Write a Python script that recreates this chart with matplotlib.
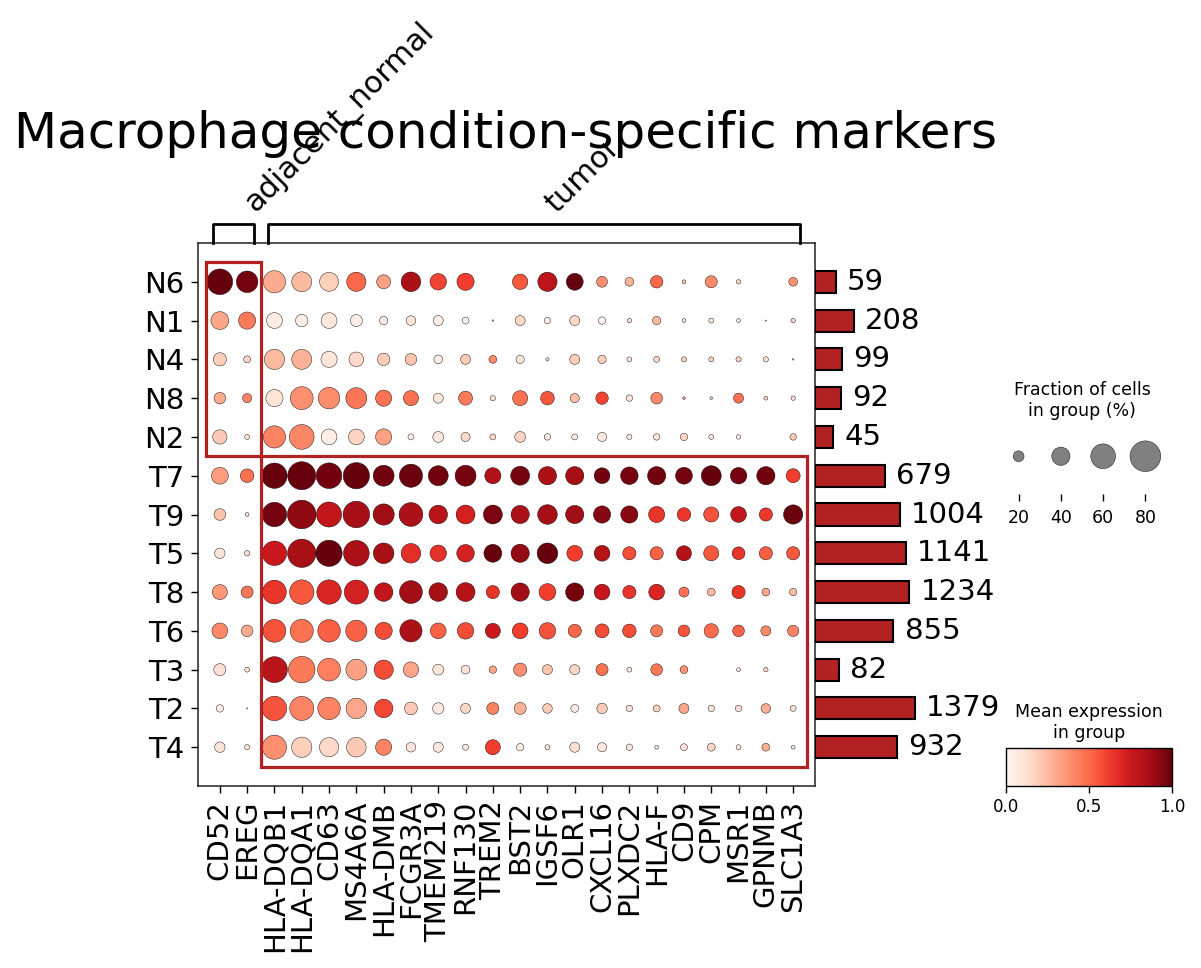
import numpy as np
import matplotlib
matplotlib.use("Agg")
import matplotlib.pyplot as plt
from matplotlib.patches import Rectangle
from matplotlib.cm import ScalarMappable
from matplotlib.colors import Normalize

genes = ["CD52", "EREG", "HLA-DQB1", "HLA-DQA1", "CD63", "MS4A6A", "HLA-DMB",
         "FCGR3A", "TMEM219", "RNF130", "TREM2", "BST2", "IGSF6", "OLR1",
         "CXCL16", "PLXDC2", "HLA-F", "CD9", "CPM", "MSR1", "GPNMB", "SLC1A3"]
groups = ["N6", "N1", "N4", "N8", "N2", "T7", "T9", "T5", "T8", "T6", "T3", "T2", "T4"]
cell_counts = [59, 208, 99, 92, 45, 679, 1004, 1141, 1234, 855, 82, 1379, 932]
gene_group_labels = ["adjacent_normal", "tumor"]
gene_group_pos = [(0, 1), (2, 21)]
# boxes: (first gene, last gene, first group, last group)
boxes = [(0, 1, 0, 4), (2, 21, 5, 12)]

# fraction of cells expressing (%)
frac_pct = np.array([
    [63, 50, 52, 45, 42, 43, 28, 44, 35, 37, 0, 32, 43, 36, 20, 15, 24, 5, 23, 6, 0, 15],
    [39, 37, 33, 24, 33, 23, 14, 17, 18, 11, 1.5, 18, 10, 18, 12, 6, 14, 5, 7, 5, 1, 6],
    [26, 11, 46, 45, 34, 30, 24, 22, 15, 18, 13, 14, 4, 18, 14, 7, 9, 7.5, 7, 7.5, 7.5, 1.5],
    [22, 16, 37, 54, 50, 48, 34, 31, 18, 28, 7.5, 31, 27, 16, 24, 10, 22, 3, 3, 18, 5, 6],
    [29, 7, 52, 60, 33, 33, 34, 9, 20, 16, 9, 20, 10, 9, 16, 7.5, 10, 12, 7, 6, 0, 10],
    [36, 27, 62, 71, 63, 65, 48, 55, 45, 48, 34, 42, 40, 40, 33, 38, 40, 36, 45, 35, 40, 28],
    [22, 5, 59, 73, 61, 66, 49, 57, 41, 42, 42, 40, 44, 40, 37, 37, 34, 27, 31, 33, 26, 43],
    [19, 8, 59, 72, 65, 63, 47, 44, 35, 38, 39, 40, 47, 33, 33, 26, 26, 31, 31, 25, 26, 26],
    [31, 23, 57, 59, 59, 58, 41, 54, 41, 42, 26, 40, 36, 40, 33, 26, 33, 18, 13, 26, 13, 12],
    [33, 22, 54, 55, 53, 49, 37, 52, 33, 35, 31, 33, 35, 26, 28, 27, 23, 22, 29, 22, 18, 21],
    [23, 7, 64, 66, 54, 48, 43, 32, 20, 15, 12, 26, 18, 18, 23, 7, 22, 13, 0, 5, 6, 0],
    [12, 1, 59, 58, 53, 47, 41, 25, 21, 18, 23, 23, 17, 13, 19, 10, 11, 18, 10, 10, 17, 9],
    [19, 7.5, 58, 46, 43, 44, 34, 17, 18, 9, 31, 12, 7, 18, 16, 10, 5, 11, 13, 7, 13, 5],
])

# scaled mean expression (0-1)
mean_expr = np.array([
    [1.0, 0.97, 0.3, 0.25, 0.18, 0.5, 0.33, 0.85, 0.6, 0.62, 0, 0.55, 0.8, 1.0, 0.38, 0.27, 0.5, 0.2, 0.4, 0.15, 0, 0.38],
    [0.32, 0.45, 0.05, 0.05, 0.08, 0.05, 0.07, 0.1, 0.04, 0.02, 0.3, 0.15, 0.05, 0.15, 0.03, 0.12, 0.25, 0.1, 0.1, 0.1, 0.3, 0.15],
    [0.18, 0.17, 0.25, 0.28, 0.09, 0.15, 0.19, 0.22, 0.07, 0.2, 0.4, 0.09, 0.15, 0.18, 0.18, 0.1, 0.15, 0.18, 0.17, 0.17, 0.12, 0.3],
    [0.3, 0.42, 0.1, 0.38, 0.39, 0.46, 0.47, 0.48, 0.09, 0.45, 0.12, 0.48, 0.55, 0.24, 0.6, 0.11, 0.4, 0.3, 0.2, 0.48, 0.15, 0.12],
    [0.2, 0.11, 0.42, 0.41, 0.04, 0.17, 0.33, 0.06, 0.08, 0.15, 0.16, 0.17, 0.1, 0.05, 0.07, 0.08, 0.1, 0.16, 0.08, 0.05, 0, 0.2],
    [0.34, 0.48, 1.0, 1.0, 0.98, 1.0, 0.98, 0.99, 0.98, 0.97, 0.83, 0.97, 0.85, 0.87, 0.98, 0.97, 0.98, 0.97, 1.0, 0.97, 0.98, 0.62],
    [0.22, 0.12, 0.97, 0.92, 0.78, 0.87, 0.88, 0.85, 0.81, 0.72, 0.96, 0.85, 0.87, 0.88, 0.94, 0.93, 0.65, 0.64, 0.57, 0.78, 0.63, 0.99],
    [0.1, 0.12, 0.75, 0.86, 1.0, 0.85, 0.86, 0.67, 0.66, 0.72, 1.0, 0.91, 1.0, 0.62, 0.82, 0.58, 0.52, 0.83, 0.55, 0.65, 0.53, 0.55],
    [0.36, 0.46, 0.65, 0.55, 0.7, 0.72, 0.78, 0.88, 0.87, 0.82, 0.65, 0.88, 0.62, 0.97, 0.77, 0.65, 0.7, 0.47, 0.25, 0.65, 0.32, 0.24],
    [0.4, 0.3, 0.56, 0.47, 0.53, 0.52, 0.58, 0.85, 0.52, 0.58, 0.75, 0.62, 0.56, 0.51, 0.58, 0.58, 0.45, 0.56, 0.49, 0.52, 0.4, 0.42],
    [0.12, 0.11, 0.81, 0.45, 0.43, 0.33, 0.58, 0.32, 0.09, 0.11, 0.31, 0.39, 0.22, 0.16, 0.47, 0.09, 0.46, 0.37, 0, 0.1, 0.15, 0],
    [0.05, 0.3, 0.56, 0.42, 0.42, 0.31, 0.59, 0.2, 0.07, 0.16, 0.42, 0.28, 0.19, 0.05, 0.2, 0.11, 0.17, 0.31, 0.09, 0.12, 0.29, 0.12],
    [0.1, 0.1, 0.38, 0.18, 0.15, 0.2, 0.42, 0.09, 0.08, 0.05, 0.62, 0.04, 0.09, 0.12, 0.09, 0.09, 0.1, 0.12, 0.16, 0.09, 0.29, 0.09],
])

legend_fracs = [20, 40, 60, 80]
dot_max = 80.0
big_dot = 488.0  # marker area (pt^2) of a dot at dot_max


def dot_size(f):
    return big_dot * (np.asarray(f, dtype=float) / dot_max) ** 1.5


W, H = 1201, 968
fig = plt.figure(figsize=(W / 100, H / 100), dpi=100)


def rect(x0, y0, x1, y1):
    # pixel box (top-left origin) -> figure fraction
    return [x0 / W, 1 - y1 / H, (x1 - x0) / W, (y1 - y0) / H]


n_g, n_r = len(genes), len(groups)
xlim = (-0.3, n_g + 0.3)
ylim = (n_r + 0.5, -0.5)
fs = 21

# main dot plot
ax = fig.add_axes(rect(198, 243, 815, 786))
xx, yy = np.meshgrid(np.arange(n_g) + 0.5, np.arange(n_r) + 0.5)
ax.scatter(xx.ravel(), yy.ravel(), s=dot_size(frac_pct.ravel()), c=mean_expr.ravel(),
           cmap="Reds", vmin=0, vmax=1, edgecolors="black", linewidths=0.3, zorder=3)
ax.set_xlim(*xlim)
ax.set_ylim(*ylim)
ax.set_xticks(np.arange(n_g) + 0.5)
ax.set_xticklabels(genes, rotation=90, fontsize=fs)
ax.set_yticks(np.arange(n_r) + 0.5)
ax.set_yticklabels(groups, fontsize=fs)
ax.tick_params(length=5, width=1, pad=5)
for sp in ax.spines.values():
    sp.set_linewidth(1.1)
    sp.set_color("#222222")

for g0, g1, r0, r1 in boxes:
    ax.add_patch(Rectangle((g0, r0), g1 - g0 + 1, r1 - r0 + 1, fill=False,
                           edgecolor="firebrick", linewidth=2.3, zorder=4, clip_on=False))

# gene group brackets
gax = fig.add_axes(rect(198, 224, 815, 243))
gax.set_xlim(*xlim)
gax.set_ylim(0, 1)
gax.axis("off")
for label, (s, e) in zip(gene_group_labels, gene_group_pos):
    left, right = s + 0.25, e + 0.75
    gax.plot([left, left, right, right], [0, 1, 1, 0], color="black", lw=2, clip_on=False)
    gax.text((left + right) / 2 + 0.8, 1.55, label, rotation=45, fontsize=22,
             ha="left", va="baseline", rotation_mode="anchor")

# title
fig.text(506 / W, 1 - 148 / H, "Macrophage condition-specific markers",
         fontsize=36, ha="center", va="baseline")

# cell counts bars
bax = fig.add_axes(rect(815, 243, 990, 786))
bax.set_xscale("function", functions=(lambda v: np.sqrt(np.clip(v, 0, None)), np.square))
bax.barh(np.arange(n_r) + 0.5, cell_counts, height=0.57, color="firebrick",
         edgecolor="black", linewidth=1.5)
for i, c in enumerate(cell_counts):
    bax.annotate(str(c), (c, i + 0.5), xytext=(8, 0), textcoords="offset points",
                 va="center", ha="left", fontsize=fs)
bax.set_xlim(0, 65.2 ** 2)
bax.set_ylim(*ylim)
bax.axis("off")

# size legend
lax = fig.add_axes(rect(997.5, 430, 1166.5, 494))
lax.scatter(np.arange(len(legend_fracs)), [0.59] * len(legend_fracs),
            s=dot_size(legend_fracs), color="gray", edgecolors="black", linewidths=0.3)
lax.set_xlim(-0.5, len(legend_fracs) - 0.5)
lax.set_ylim(0, 1)
lax.set_xticks(np.arange(len(legend_fracs)))
lax.set_xticklabels([str(f) for f in legend_fracs], fontsize=12.5)
lax.set_yticks([])
lax.tick_params(axis="x", length=5, width=1, pad=6)
for sp in lax.spines.values():
    sp.set_visible(False)
lax.set_title("Fraction of cells\nin group (%)", fontsize=12.5, pad=10)

# colorbar
cax = fig.add_axes(rect(1006, 748, 1172, 786))
cb = fig.colorbar(ScalarMappable(norm=Normalize(0, 1), cmap="Reds"), cax=cax,
                  orientation="horizontal", ticks=[0, 0.5, 1.0])
cb.ax.tick_params(labelsize=12, length=5, width=1)
cb.outline.set_linewidth(1)
cax.set_title("Mean expression\nin group", fontsize=12.5, pad=7)

fig.savefig("out.png", dpi=100)
